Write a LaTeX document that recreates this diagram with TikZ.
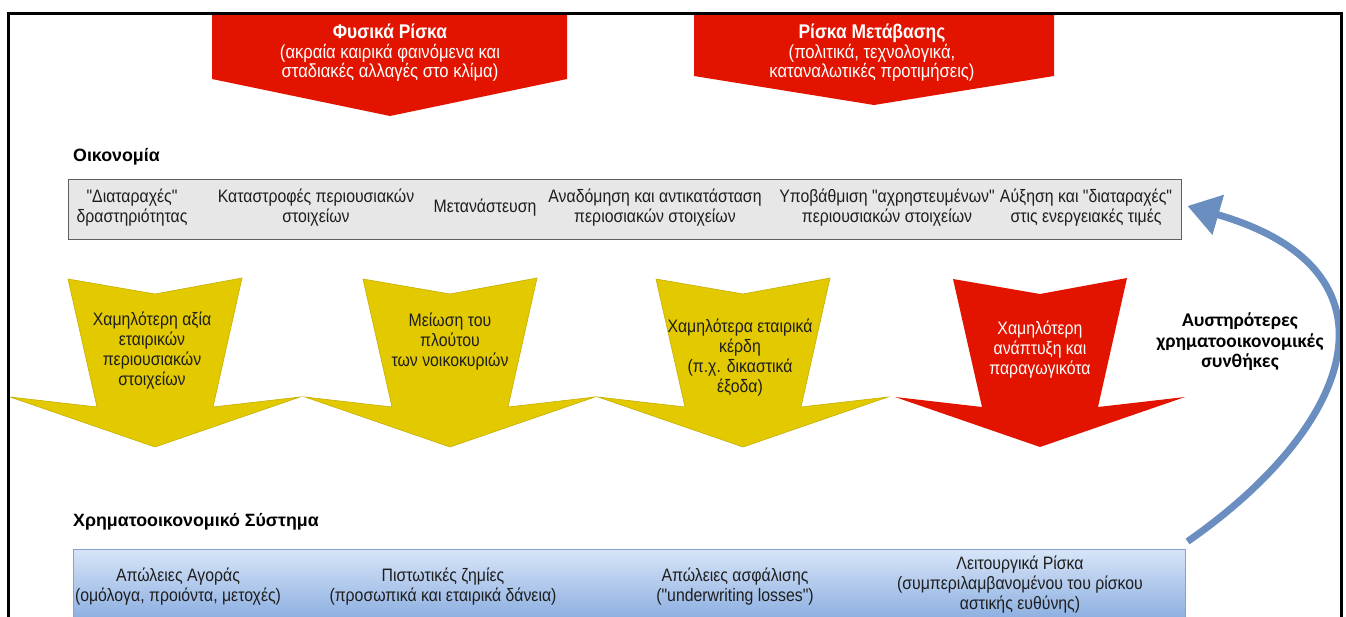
\documentclass[tikz,border=0pt]{standalone}
\usepackage{fontspec}
\setmainfont{Liberation Sans}
\newfontfamily\narrowfont{Liberation Sans}[FakeStretch=0.88]
\newfontfamily\labelfont{Carlito}
\usetikzlibrary{arrows.meta}
\definecolor{riskred}{RGB}{226,20,0}
\definecolor{impactyellow}{RGB}{227,201,0}
\definecolor{impactedge}{RGB}{196,176,0}
\definecolor{econgray}{RGB}{231,231,231}
\definecolor{econedge}{RGB}{95,95,95}
\definecolor{finlight}{RGB}{216,229,248}
\definecolor{findark}{RGB}{138,173,224}
\definecolor{finedge}{RGB}{130,163,212}
\definecolor{loopblue}{RGB}{107,142,193}
\definecolor{bodytext}{RGB}{30,30,30}

\tikzset{
  body/.style={font=\narrowfont\fontsize{18}{20}\selectfont, align=center, text=bodytext, inner sep=0pt},
  riskhead/.style={font=\narrowfont\fontsize{18.9}{19.5}\selectfont, align=center, text=white, inner sep=0pt},
  sectionhead/.style={font=\bfseries\fontsize{17.8}{20}\selectfont, anchor=west, inner sep=0pt},
  looplabel/.style={font=\labelfont\bfseries\fontsize{19.4}{20.5}\selectfont, align=center, inner sep=0pt},
  impactarrow/.pic={
    \path[pic actions] (-87,279) -- (0,294) -- (87,278) -- (58,407) -- (145,397)
      -- (0,447) -- (-145,397) -- (-58,407) -- cycle;
  }
}

\begin{document}
\begin{tikzpicture}[x=1pt,y=-1pt]
\useasboundingbox (0,0) rectangle (1346,617);
\clip (0,0) rectangle (1346,617);
\fill[white] (0,0) rectangle (1346,617);

% risk sources at the top
\fill[riskred] (212,15) -- (567,15) -- (567,79) -- (390,116) -- (212,79) -- cycle;
\fill[riskred] (694,15) -- (1054,15) -- (1054,76) -- (874,105) -- (694,76) -- cycle;
\node[riskhead] (phys) at (390,53) {{\bfseries\fontsize{19.8}{19.5}\selectfont Φυσικά Ρίσκα}\\(ακραία καιρικά φαινόμενα και\\σταδιακές αλλαγές στο κλίμα)};
\node[riskhead] (trans) at (872,53) {{\bfseries\fontsize{19.8}{19.5}\selectfont Ρίσκα Μετάβασης}\\(πολιτικά, τεχνολογικά,\\καταναλωτικές προτιμήσεις)};

% economy
\node[sectionhead] (econhead) at (73,157) {Οικονομία};
\node[draw=econedge, fill=econgray, line width=1pt, minimum width=1113pt, minimum height=60pt, inner sep=0pt] (econ) at (624.5,210) {};
\node[body] (e1) at (132,208) {"Διαταραχές"\\δραστηριότητας};
\node[body] (e2) at (316,208) {Καταστροφές περιουσιακών\\στοιχείων};
\node[body] (e3) at (485,208) {Μετανάστευση};
\node[body] (e4) at (655,208) {Αναδόμηση και αντικατάσταση\\περιοσιακών στοιχείων};
\node[body] (e5) at (887,208) {Υποβάθμιση "αχρηστευμένων"\\περιουσιακών στοιχείων};
\node[body] (e6) at (1086,208) {Αύξηση και "διαταραχές"\\στις ενεργειακές τιμές};

% transmission channels
\pic[fill=impactyellow, draw=impactedge, line width=0.6pt] at (155,0) {impactarrow};
\pic[fill=impactyellow, draw=impactedge, line width=0.6pt] at (450,0) {impactarrow};
\pic[fill=impactyellow, draw=impactedge, line width=0.6pt] at (743,0) {impactarrow};
\pic[fill=riskred] at (1040,0) {impactarrow};
\node[body] (c1) at (152,351) {Χαμηλότερη αξία\\εταιρικών\\περιουσιακών\\στοιχείων};
\node[body] (c2) at (450,342) {Μείωση του\\πλούτου\\των νοικοκυριών};
\node[body] (c3) at (740,358) {Χαμηλότερα εταιρικά\\κέρδη\\(π.χ. δικαστικά\\έξοδα)};
\node[body, text=white] (c4) at (1040,350) {Χαμηλότερη\\ανάπτυξη και\\παραγωγικότα};

% financial system
\node[sectionhead] (finhead) at (73,522) {Χρηματοοικονομικό Σύστημα};
\node[draw=finedge, top color=finlight, bottom color=findark, line width=1pt, minimum width=1112pt, minimum height=72pt, inner sep=0pt] (fin) at (629,585) {};
\node[body] (f1) at (178,586.5) {Απώλειες Αγοράς\\(ομόλογα, προιόντα, μετοχές)};
\node[body] (f2) at (443,586.5) {Πιστωτικές ζημίες\\(προσωπικά και εταιρικά δάνεια)};
\node[body] (f3) at (735,586.5) {Απώλειες ασφάλισης\\("underwriting losses")};
\node[body] (f4) at (1020,585) {Λειτουργικά Ρίσκα\\(συμπεριλαμβανομένου του ρίσκου\\αστικής ευθύνης)};

% feedback loop
\draw[loopblue, line width=7pt, -{Triangle[length=32pt,width=40pt]}]
  ([shift={(2,-7)}]fin.north east) .. controls (1355,425) and (1410,270) .. ([shift={(6,-4)}]econ.east);
\node[looplabel] (loop) at (1240,342) {Αυστηρότερες\\χρηματοοικονομικές\\συνθήκες};

% outer frame
\draw[line width=3pt] (8.5,13.5) rectangle (1341.5,700);
\end{tikzpicture}
\end{document}
